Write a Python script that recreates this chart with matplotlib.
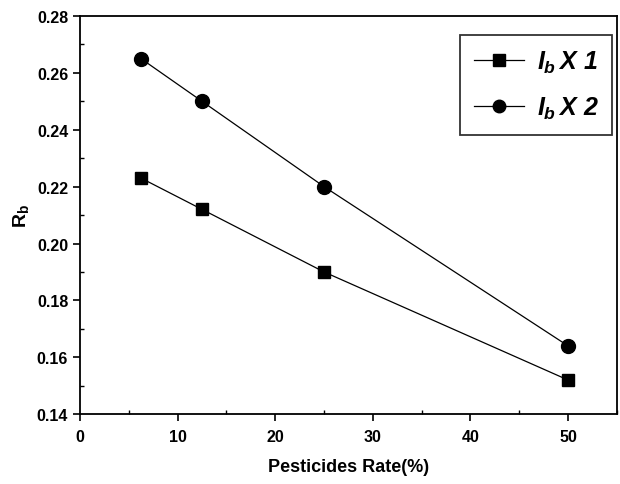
import matplotlib
matplotlib.use("Agg")
import matplotlib.pyplot as plt
from matplotlib.ticker import MultipleLocator, FormatStrFormatter

plt.rcParams['font.family'] = ['Liberation Sans', 'DejaVu Sans']
plt.rcParams['mathtext.fontset'] = 'custom'
plt.rcParams['mathtext.rm'] = 'Liberation Sans:bold:italic'
plt.rcParams['mathtext.it'] = 'Liberation Sans:bold:italic'
plt.rcParams['mathtext.bf'] = 'Liberation Sans:bold'
plt.rcParams['mathtext.sf'] = 'Liberation Sans:bold'

pesticide_rate = [6.25, 12.5, 25, 50]
rb_ib_x1 = [0.223, 0.212, 0.190, 0.152]
rb_ib_x2 = [0.265, 0.250, 0.220, 0.164]
labels = [r'$I_b\,X\ 1$', r'$I_b\,X\ 2$']

fig = plt.figure(figsize=(6.2, 4.85), dpi=100)
ax = fig.add_axes([0.129, 0.144, 0.866, 0.821])

ax.plot(pesticide_rate, rb_ib_x1, color='black', lw=0.9, marker='s', ms=9, label=labels[0])
ax.plot(pesticide_rate, rb_ib_x2, color='black', lw=0.9, marker='o', ms=10, label=labels[1])

ax.set_xlim(0, 55)
ax.set_ylim(0.14, 0.28)
ax.xaxis.set_major_locator(MultipleLocator(10))
ax.xaxis.set_minor_locator(MultipleLocator(5))
ax.yaxis.set_major_locator(MultipleLocator(0.02))
ax.yaxis.set_minor_locator(MultipleLocator(0.01))
ax.yaxis.set_major_formatter(FormatStrFormatter('%.2f'))
ax.tick_params(which='major', direction='out', length=5, width=1.2, labelsize=11.5)
ax.tick_params(axis='x', which='major', pad=6)
ax.tick_params(which='minor', direction='in', length=3, width=1)
for lbl in ax.get_xticklabels() + ax.get_yticklabels():
    lbl.set_fontweight('bold')
for sp in ax.spines.values():
    sp.set_linewidth(1.3)

ax.set_xlabel('Pesticides Rate(%)', fontsize=13, fontweight='bold', labelpad=10)
ax.set_ylabel(r'$\mathsf{R_b}$', fontsize=14, labelpad=4)

leg = ax.legend(loc='upper right', fontsize=18, frameon=True, fancybox=False,
                edgecolor='black', handlelength=2.0, handletextpad=0.5,
                borderpad=0.55, labelspacing=0.8, markerscale=0.9,
                borderaxespad=0, bbox_to_anchor=(0.991, 0.952))
leg.get_frame().set_linewidth(1.3)

fig.savefig('out.png', dpi=100)
